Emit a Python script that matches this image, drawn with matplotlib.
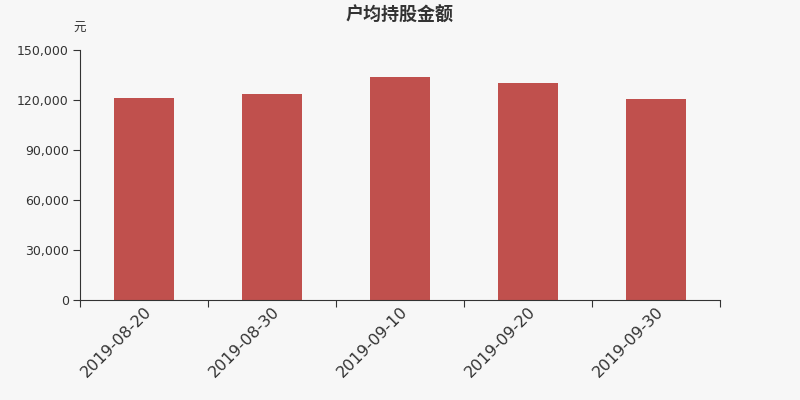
import matplotlib
matplotlib.use("Agg")
import matplotlib.pyplot as plt
from matplotlib.ticker import FuncFormatter

plt.rcParams['font.family'] = ['Noto Sans CJK SC', 'DejaVu Sans']

dates = ["2019-08-20", "2019-08-30", "2019-09-10", "2019-09-20", "2019-09-30"]
values = [121200, 123600, 133800, 130200, 120600]
yticks = [0, 30000, 60000, 90000, 120000, 150000]

bg = "#f7f7f7"
fig = plt.figure(figsize=(8, 4), dpi=100, facecolor=bg)
ax = fig.add_axes([0.1, 0.25, 0.8, 0.625], facecolor=bg)

x = list(range(len(dates)))
ax.bar(x, values, width=0.47, color="#c0504d", zorder=2)

ax.set_xlim(-0.5, len(dates) - 0.5)
ax.set_ylim(0, 150000)
ax.set_yticks(yticks)
ax.yaxis.set_major_formatter(FuncFormatter(lambda v, p: f"{int(v):,}"))
ax.tick_params(axis="y", labelsize=9, colors="#333333", length=5, width=0.8, pad=3)
for t in ax.get_yticklabels():
    t.set_family(["DejaVu Sans"])

# boundary ticks, labels at bar centers
ax.set_xticks([i - 0.5 for i in range(len(dates) + 1)])
ax.set_xticklabels([])
ax.set_xticks(x, minor=True)
ax.set_xticklabels(dates, minor=True, rotation=45, ha="right", rotation_mode="anchor",
                   fontsize=11.5, color="#333333", family=["DejaVu Sans"])
ax.tick_params(axis="x", which="major", length=5, width=0.8, color="#333333")
ax.tick_params(axis="x", which="minor", length=0, pad=3)

for s in ["top", "right"]:
    ax.spines[s].set_visible(False)
for s in ["left", "bottom"]:
    ax.spines[s].set_color("#333333")
    ax.spines[s].set_linewidth(0.8)

fig.text(0.5, 0.963, "户均持股金额", ha="center", va="center", fontsize=13,
         fontweight="bold", color="#333333")
fig.text(0.1, 0.928, "元", ha="center", va="center", fontsize=9, color="#333333")

fig.savefig("out.png", facecolor=bg)
